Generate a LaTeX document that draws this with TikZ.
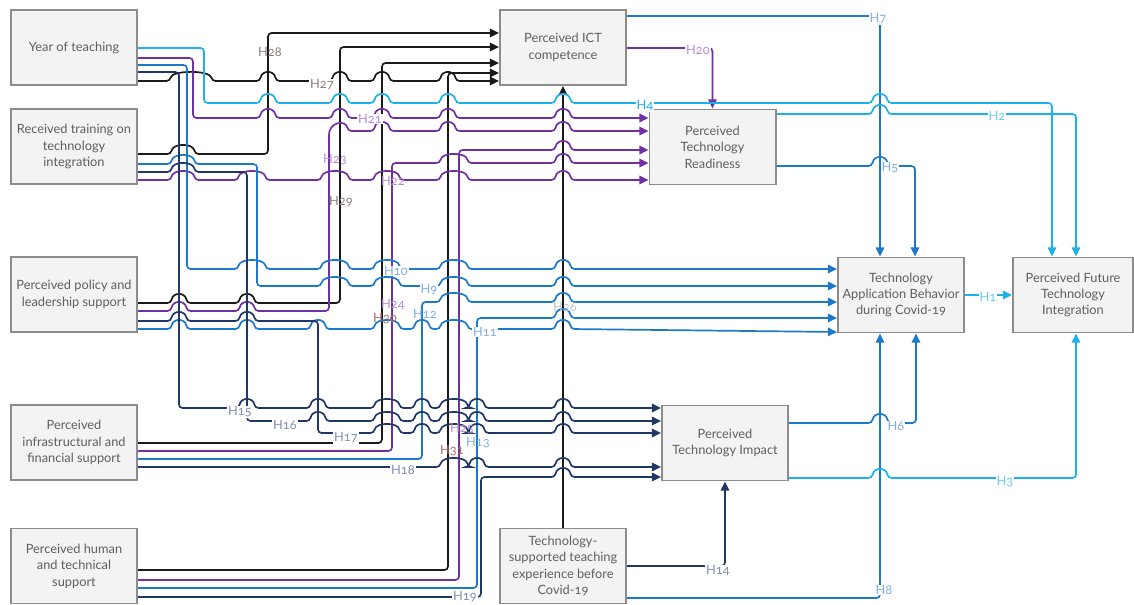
\documentclass[tikz,border=0pt]{standalone}
\usepackage{fontspec}
\setmainfont{Lato}[Numbers=OldStyle]
\usetikzlibrary{arrows.meta}

\definecolor{blk}{HTML}{1A1A1A}
\definecolor{pur}{HTML}{7030A0}
\definecolor{lbl}{HTML}{1CB0EC}
\definecolor{mbl}{HTML}{1C78C8}
\definecolor{nvy}{HTML}{1F3868}
\definecolor{boxline}{HTML}{8C8C8C}
\definecolor{boxfill}{HTML}{F3F3F3}
\definecolor{txtgray}{HTML}{5F5F5F}
\definecolor{labblk}{HTML}{8C7F7A}
\definecolor{labred}{HTML}{A5706A}
\definecolor{labpur}{HTML}{B58ED6}
\definecolor{labmbl}{HTML}{80B0E4}
\definecolor{labnvy}{HTML}{8290B5}
\definecolor{labgry}{HTML}{C4C4C4}
\definecolor{lablbl}{HTML}{6CCBF2}

% line jumps over crossing verticals: list of centre/half-width
\newcommand\hops[2]{\foreach \hc/\hw in {#2}{ -- (\hc-\hw,#1) .. controls (\hc-\hw+2,#1-11) and (\hc+\hw-2,#1-11) .. (\hc+\hw,#1)}}

\begin{document}
\begin{tikzpicture}[
    x=0.025cm, y=-0.025cm,
    font=\fontsize{9.1}{11.7}\selectfont,
    box/.style={draw=boxline, line width=1.4pt, fill=boxfill, text=txtgray,
      align=center, minimum width=3.15cm, minimum height=1.875cm, inner sep=1pt},
    wire/.style={line width=1.2pt, rounded corners=2.5pt},
    tobox/.style={-{Triangle[length=6.5pt,width=6pt]}},
    hyp/.style={fill=white, inner sep=0.6pt},
    hypover/.style={inner sep=0.6pt}
  ]
    \useasboundingbox (0,0) rectangle (1134,605);

    % boxes
    \node[box] (year) at (74,47.5) {Year of teaching};
    \node[box] (train) at (74,146.5) {Received training on\\technology\\integration};
    \node[box] (policy) at (74,294.5) {Perceived policy and\\leadership support};
    \node[box] (infra) at (74,442.5) {Perceived\\infrastructural and\\financial support};
    \node[box] (human) at (74,566) {Perceived human\\and technical\\support};
    \node[box] (ict) at (563,47.5) {Perceived ICT\\competence};
    \node[box] (ready) at (712.5,147) {Perceived\\Technology\\Readiness};
    \node[box] (behav) at (901,295) {Technology\\Application Behavior\\during Covid-19};
    \node[box, minimum width=3.0cm] (future) at (1073,295) {Perceived Future\\Technology\\Integration};
    \node[box] (impact) at (725,443) {Perceived\\Technology Impact};
    \node[box] (tech) at (563,566) {Technology-\\supported teaching\\experience before\\Covid-19};

    % into ICT competence
    \draw[wire, blk, tobox] (year.east |- 0,81) \hops{81}{191/21,268/8,340/8,382/8,448/8} -- (ict.west |- 0,81);
    \draw[wire, blk, tobox] (train.east |- 0,154) \hops{154}{183/12} -| (268,33) -- (ict.west |- 0,33);
    \draw[wire, blk, tobox] (policy.east |- 0,303) \hops{303}{179/8,247/8} -| (340,47) -- (ict.west |- 0,47);
    \draw[wire, blk, tobox] (infra.east |- 0,443) -| (382,63) -- (ict.west |- 0,63);
    \draw[wire, blk, tobox] (human.east |- 0,570) -| (448,73) -- (ict.west |- 0,73);
    \draw[wire, blk, tobox] (tech.north) -- (ict.south);

    % into readiness
    \draw[wire, pur, tobox] (year.east |- 0,58) -| (193,118) \hops{118}{268/8,340/8,382/8,448/8,563/8} -- (ready.west |- 0,118);
    \draw[wire, pur, tobox] (train.east |- 0,180) \hops{180}{183/12,252/14,335/14,387/13,454/14,563/8} -- (ready.west |- 0,180);
    \draw[wire, pur, tobox] (policy.east |- 0,311) \hops{311}{179/8,247/8} -| (329,139) .. controls (329,121) and (346,120) .. (348,131) \hops{131}{382/8,448/8,563/8} -- (ready.west |- 0,131);
    \draw[wire, pur, tobox] (infra.east |- 0,451) -| (392,163) \hops{163}{454/14,563/8} -- (ready.west |- 0,163);
    \draw[wire, pur, tobox] (human.east |- 0,580) -| (459,150) \hops{150}{563/8} -- (ready.west |- 0,150);
    \draw[wire, pur, tobox] (ict.east |- 0,48) -| (ready.north);

    % into application behavior
    \draw[wire, mbl, tobox] (year.east |- 0,65) -| (187,269) \hops{269}{252/14,335/14,387/13,454/14,563/8} -- (behav.west |- 0,269);
    \draw[wire, mbl, tobox] (train.east |- 0,164) \hops{164}{183/12} -| (257,286) \hops{286}{335/14,387/13,454/14,563/8} -- (behav.west |- 0,286);
    \draw[wire, mbl, tobox] (policy.east |- 0,329) \hops{329}{179/8,247/8,318/8,387/13,422/8,454/14,563/8} -- (behav.west |- 0,332);
    \draw[wire, mbl, tobox] (infra.east |- 0,459) -| (422,302) \hops{302}{454/14,563/8} -- (behav.west |- 0,302);
    \draw[wire, mbl, tobox] (human.east |- 0,588) -| (477,318) \hops{318}{563/8} -- (behav.west |- 0,318);
    \draw[wire, mbl, tobox] (ict.east |- 0,16) -| (behav.north -| 880,0);
    \draw[wire, mbl, tobox] (ready.east |- 0,166) \hops{166}{880/8} -| (behav.north -| 915,0);
    \draw[wire, mbl, tobox] (impact.east |- 0,423) \hops{423}{880/8} -| (behav.south -| 916,0);
    \draw[wire, mbl, tobox] (tech.east |- 0,598) -| (behav.south -| 880,0);

    % into technology impact
    \draw[wire, nvy, tobox] (year.east |- 0,72) -| (179,408) \hops{408}{247/8,318/8,387/13,422/8,454/14,477/8,563/8} -- (impact.west |- 0,408);
    \draw[wire, nvy, tobox] (train.east |- 0,172) \hops{172}{183/12} -| (247,421) \hops{421}{318/8,387/13,422/8,454/14,477/8,563/8} -- (impact.west |- 0,421);
    \draw[wire, nvy, tobox] (policy.east |- 0,321) \hops{321}{179/8,247/8} -| (318,433) \hops{433}{387/13,422/8,454/14,477/8,563/8} -- (impact.west |- 0,433);
    \draw[wire, nvy, tobox] (infra.east |- 0,467) \hops{467}{454/14,477/8,563/8} -- (impact.west |- 0,467);
    \draw[wire, nvy, tobox] (human.east |- 0,597) -| (481,477) \hops{477}{563/8} -- (impact.west |- 0,477);
    \draw[wire, nvy, tobox] (tech.east |- 0,566) -| (impact.south);

    % into future integration
    \draw[wire, lbl, tobox] (year.east |- 0,48) -| (204,103) \hops{103}{268/8,340/8,382/8,448/8,563/8,880/8} -| (future.north -| 1052,0);
    \draw[wire, lbl, tobox] (ready.east |- 0,114) \hops{114}{880/8} -| (future.north -| 1076,0);
    \draw[wire, lbl, tobox] (impact.east |- 0,478) \hops{478}{880/8} -| (future.south -| 1076,0);
    \draw[wire, lbl, tobox] (behav.east) -- (future.west);

    % hypothesis labels
    \node[hyp, text=lablbl] (h1) at (988,297) {H1};
    \node[hyp, text=lablbl] (h2) at (997,116) {H2};
    \node[hyp, text=lablbl] (h3) at (1005,482) {H3};
    \node[hyp, text=lbl] (h4) at (645,106) {H4};
    \node[hyp, text=labmbl] (h5) at (890,168) {H5};
    \node[hyp, text=labmbl] (h6) at (896,426) {H6};
    \node[hyp, text=labmbl] (h7) at (878,19) {H7};
    \node[hyp, text=labmbl] (h8) at (884,590) {H8};
    \node[hyp, text=labmbl] (h9) at (429,290) {H9};
    \node[hyp, text=labmbl] (h10) at (396,271) {H10};
    \node[hyp, text=labmbl] (h11) at (485,332) {H11};
    \node[hypover, text=labmbl] (h12) at (425,314) {H12};
    \node[hypover, text=labmbl] (h13) at (478,443) {H13};
    \node[hyp, text=labnvy] (h14) at (718,571) {H14};
    \node[hyp, text=labnvy] (h15) at (240,412) {H15};
    \node[hyp, text=labnvy] (h16) at (285,425) {H16};
    \node[hyp, text=labnvy] (h17) at (346,438) {H17};
    \node[hyp, text=labnvy] (h18) at (403,470) {H18};
    \node[hyp, text=labnvy] (h19) at (465,597) {H19};
    \node[hyp, text=labpur] (h20) at (698,50) {H20};
    \node[hyp, text=labpur] (h21) at (370,119) {H21};
    \node[hypover, text=labpur] (h22) at (393,181) {H22};
    \node[hypover, text=labpur] (h23) at (335,160) {H23};
    \node[hypover, text=labpur] (h24) at (393,305) {H24};
    \node[hypover, text=labpur] (h25) at (462,429) {H25};
    \node[hypover, text=labgry] (h26) at (565,307) {H26};
    \node[hyp, text=labblk] (h27) at (322,85) {H27};
    \node[hypover, text=labblk] (h28) at (270,52) {H28};
    \node[hypover, text=labblk] (h29) at (341,202) {H29};
    \node[hypover, text=labred] (h30) at (385,319) {H30};
    \node[hypover, text=labred] (h31) at (452,451) {H31};
\end{tikzpicture}
\end{document}
